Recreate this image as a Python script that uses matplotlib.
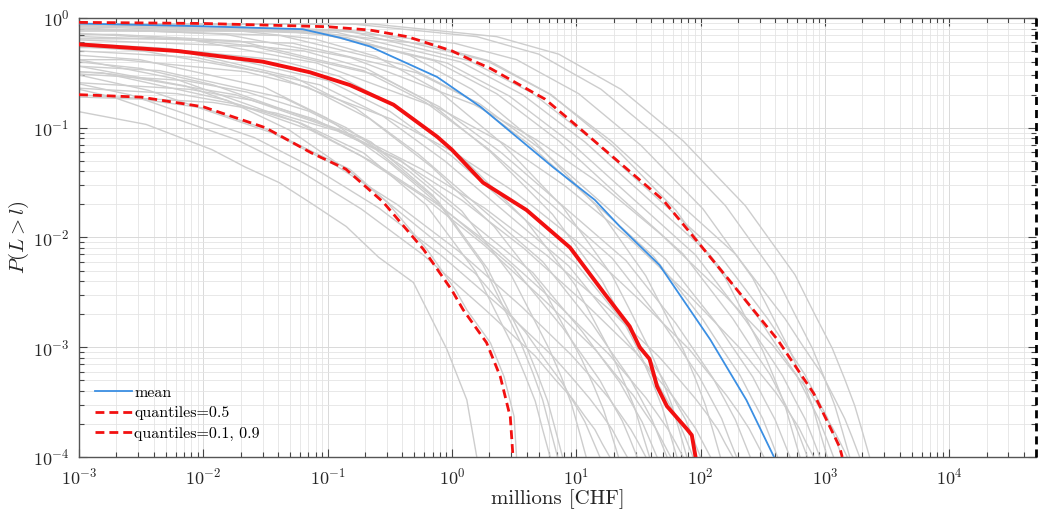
import numpy as np
import matplotlib
matplotlib.use("Agg")
import matplotlib.pyplot as plt
from matplotlib.lines import Line2D
from matplotlib.ticker import LogLocator, NullFormatter

plt.rcParams["font.family"] = "serif"
plt.rcParams["font.serif"] = ["cmr10"]
plt.rcParams["mathtext.fontset"] = "cm"
plt.rcParams["axes.formatter.use_mathtext"] = True

# exceedance curves P(L > l) of the single scenarios,
# each point stored as (log10 loss in millions, log10 probability)
grey_log = [
    [(-3, -0.854), (-2.46, -0.97), (-1.93, -1.20), (-1.66, -1.36), (-1.39, -1.50), (-1.13, -1.69),
     (-0.85, -1.90), (-0.59, -2.18), (-0.31, -2.41), (-0.04, -3.02), (0.12, -3.48), (0.20, -4.0)],
    [(-3, -0.72), (-2.5, -0.74), (-2, -0.82), (-1.5, -1.01), (-1.1, -1.23), (-0.82, -1.38), (-0.52, -1.68),
     (-0.2, -2.11), (0.03, -2.48), (0.12, -2.66), (0.31, -2.96), (0.42, -3.27), (0.50, -3.63), (0.52, -4.0)],
    [(-3, -0.64), (-2.21, -0.69), (-1.71, -0.79), (-1.21, -0.96), (-0.71, -1.23), (-0.21, -1.70), (0.19, -2.31),
     (0.34, -2.65), (0.49, -2.99), (0.59, -3.26), (0.67, -3.49), (0.73, -3.75), (0.79, -4)],
    [(-3, -0.51), (-2.15, -0.57), (-1.65, -0.675), (-1.15, -0.85), (-0.65, -1.13), (-0.15, -1.62), (0.25, -2.25),
     (0.40, -2.60), (0.55, -2.95), (0.65, -3.23), (0.73, -3.48), (0.79, -3.74), (0.85, -4)],
    [(-3, -0.59), (-2.11, -0.65), (-1.61, -0.75), (-1.11, -0.92), (-0.61, -1.20), (-0.11, -1.67), (0.29, -2.29),
     (0.44, -2.63), (0.59, -2.97), (0.69, -3.25), (0.77, -3.49), (0.83, -3.74), (0.89, -4)],
    [(-3, -0.70), (-1.92, -0.77), (-1.42, -0.865), (-0.92, -1.03), (-0.42, -1.29), (0.08, -1.76), (0.48, -2.35),
     (0.63, -2.68), (0.78, -3.01), (0.88, -3.27), (0.96, -3.51), (1.02, -3.75), (1.08, -4)],
    [(-3, -0.49), (-2.81, -0.50), (-1.81, -0.75), (-1.31, -1.02), (-0.81, -1.41), (-0.31, -1.87), (0.19, -2.33),
     (0.59, -2.86), (0.74, -3.10), (0.89, -3.33), (0.99, -3.52), (1.07, -3.68), (1.13, -3.84), (1.19, -4)],
    [(-3, -0.65), (-2.73, -0.72), (-1.73, -1.11), (-1.23, -1.39), (-0.73, -1.74), (-0.23, -2.16), (0.27, -2.66),
     (0.67, -3.08), (0.82, -3.28), (0.97, -3.47), (1.07, -3.63), (1.15, -3.75), (1.21, -3.88), (1.27, -4)],
    [(-3, -0.38), (-2.66, -0.38), (-1.66, -0.49), (-1.16, -0.63), (-0.66, -0.92), (-0.16, -1.36), (0.34, -1.90),
     (0.74, -2.48), (0.89, -2.79), (1.04, -3.10), (1.14, -3.35), (1.22, -3.57), (1.28, -3.78), (1.34, -4)],
    [(-3, -0.60), (-2.59, -0.70), (-1.59, -1.09), (-1.09, -1.38), (-0.59, -1.73), (-0.09, -2.16), (0.41, -2.65),
     (0.81, -3.08), (0.96, -3.27), (1.11, -3.47), (1.21, -3.62), (1.29, -3.75), (1.35, -3.88), (1.41, -4)],
    [(-3, -0.34), (-2.51, -0.38), (-1.51, -0.63), (-1.01, -0.91), (-0.51, -1.31), (-0.01, -1.79), (0.49, -2.27),
     (0.89, -2.82), (1.04, -3.06), (1.19, -3.30), (1.29, -3.51), (1.37, -3.67), (1.43, -3.83), (1.49, -4)],
    [(-3, -0.52), (-2.44, -0.66), (-1.44, -1.05), (-0.94, -1.34), (-0.44, -1.70), (0.06, -2.13), (0.56, -2.63),
     (0.96, -3.07), (1.11, -3.26), (1.26, -3.46), (1.36, -3.62), (1.44, -3.75), (1.50, -3.87), (1.56, -4)],
    [(-3, -0.27), (-2.41, -0.27), (-1.41, -0.38), (-0.91, -0.53), (-0.41, -0.83), (0.09, -1.28), (0.59, -1.84),
     (0.99, -2.43), (1.14, -2.75), (1.29, -3.07), (1.39, -3.33), (1.47, -3.55), (1.53, -3.78), (1.59, -4)],
    [(-3, -0.44), (-2.35, -0.48), (-1.35, -0.73), (-0.85, -1.00), (-0.35, -1.39), (0.15, -1.86), (0.65, -2.32),
     (1.05, -2.86), (1.20, -3.09), (1.35, -3.32), (1.45, -3.52), (1.53, -3.68), (1.59, -3.84), (1.65, -4)],
    [(-3, -0.23), (-2.27, -0.28), (-1.27, -0.54), (-0.77, -0.825), (-0.27, -1.24), (0.23, -1.73), (0.73, -2.22),
     (1.13, -2.79), (1.28, -3.04), (1.43, -3.28), (1.53, -3.49), (1.61, -3.66), (1.67, -3.83), (1.73, -4)],
    [(-3, -0.38), (-2.24, -0.55), (-1.24, -0.95), (-0.74, -1.25), (-0.24, -1.62), (0.26, -2.07), (0.76, -2.59),
     (1.16, -3.03), (1.31, -3.24), (1.46, -3.44), (1.56, -3.61), (1.64, -3.74), (1.70, -3.87), (1.76, -4)],
    [(-3, -0.19), (-2.19, -0.19), (-1.19, -0.30), (-0.69, -0.46), (-0.19, -0.76), (0.31, -1.22), (0.81, -1.79),
     (1.21, -2.40), (1.36, -2.72), (1.51, -3.05), (1.61, -3.31), (1.69, -3.54), (1.75, -3.77), (1.81, -4)],
    [(-3, -0.44), (-2.14, -0.62), (-1.14, -1.02), (-0.64, -1.31), (-0.14, -1.68), (0.36, -2.11), (0.86, -2.62),
     (1.26, -3.06), (1.41, -3.26), (1.56, -3.46), (1.66, -3.62), (1.74, -3.75), (1.80, -3.87), (1.86, -4)],
    [(-3, -0.07), (-2.11, -0.07), (-1.11, -0.19), (-0.61, -0.35), (-0.11, -0.66), (0.39, -1.13), (0.89, -1.72),
     (1.29, -2.35), (1.44, -2.68), (1.59, -3.02), (1.69, -3.29), (1.77, -3.53), (1.83, -3.76), (1.89, -4)],
    [(-3, -0.30), (-2.06, -0.36), (-1.06, -0.61), (-0.56, -0.89), (-0.06, -1.30), (0.44, -1.78), (0.94, -2.26),
     (1.34, -2.82), (1.49, -3.06), (1.64, -3.30), (1.74, -3.50), (1.82, -3.67), (1.88, -3.83), (1.94, -4)],
    [(-3, -0.25), (-2.0, -0.31), (-1.0, -0.57), (-0.5, -0.85), (0.0, -1.26), (0.5, -1.75), (1.0, -2.24),
     (1.4, -2.80), (1.55, -3.04), (1.7, -3.29), (1.8, -3.50), (1.88, -3.66), (1.94, -3.83), (2.0, -4)],
    [(-3, -0.40), (-2.5, -0.46), (-1.92, -0.61), (-0.92, -1.01), (-0.42, -1.30), (0.08, -1.66), (0.58, -2.10),
     (1.08, -2.61), (1.48, -3.05), (1.63, -3.25), (1.78, -3.45), (1.88, -3.61), (1.96, -3.74), (2.02, -3.87), (2.08, -4)],
    [(-3, -0.06), (-1.84, -0.06), (-0.84, -0.18), (-0.34, -0.34), (0.16, -0.65), (0.66, -1.12), (1.16, -1.71),
     (1.56, -2.35), (1.71, -2.68), (1.86, -3.02), (1.96, -3.29), (2.04, -3.53), (2.10, -3.76), (2.16, -4)],
    [(-3, -0.49), (-2.74, -0.51), (-1.74, -0.70), (-0.74, -1.09), (-0.24, -1.38), (0.26, -1.73), (0.76, -2.16),
     (1.26, -2.65), (1.66, -3.08), (1.81, -3.27), (1.96, -3.47), (2.06, -3.62), (2.14, -3.75), (2.20, -3.88), (2.26, -4)],
    [(-3, -0.15), (-2.71, -0.15), (-1.71, -0.21), (-0.71, -0.48), (-0.21, -0.77), (0.29, -1.19), (0.79, -1.69),
     (1.29, -2.19), (1.69, -2.77), (1.84, -3.02), (1.99, -3.27), (2.09, -3.48), (2.17, -3.65), (2.23, -3.83), (2.29, -4)],
    [(-3, -0.20), (-1.6, -0.26), (-0.6, -0.52), (-0.1, -0.81), (0.4, -1.23), (0.9, -1.72), (1.4, -2.21),
     (1.8, -2.78), (1.95, -3.03), (2.1, -3.28), (2.2, -3.49), (2.28, -3.66), (2.34, -3.83), (2.40, -4)],
    [(-3, -0.26), (-2.49, -0.30), (-1.49, -0.50), (-0.49, -0.92), (0.01, -1.22), (0.51, -1.59), (1.01, -2.04),
     (1.51, -2.57), (1.91, -3.02), (2.06, -3.23), (2.21, -3.44), (2.31, -3.60), (2.39, -3.74), (2.45, -3.87), (2.51, -4)],
    [(-3, -0.10), (-1.38, -0.16), (-0.38, -0.43), (0.12, -0.72), (0.62, -1.15), (1.12, -1.66), (1.62, -2.17),
     (2.02, -2.75), (2.17, -3.01), (2.32, -3.26), (2.42, -3.48), (2.50, -3.65), (2.56, -3.82), (2.62, -4)],
    [(-3, -0.17), (-1.28, -0.23), (-0.28, -0.50), (0.22, -0.78), (0.72, -1.20), (1.22, -1.70), (1.72, -2.20),
     (2.12, -2.77), (2.27, -3.02), (2.42, -3.27), (2.52, -3.49), (2.60, -3.66), (2.66, -3.83), (2.72, -4)],
    [(-3, -0.12), (-1.2, -0.12), (-0.2, -0.24), (0.3, -0.39), (0.8, -0.70), (1.3, -1.17), (1.8, -1.75),
     (2.2, -2.37), (2.35, -2.70), (2.5, -3.03), (2.6, -3.30), (2.68, -3.53), (2.74, -3.77), (2.80, -4)],
    [(-3, -0.06), (-1.14, -0.12), (-0.14, -0.39), (0.36, -0.69), (0.86, -1.12), (1.36, -1.64), (1.86, -2.15),
     (2.26, -2.74), (2.41, -3.00), (2.56, -3.25), (2.66, -3.47), (2.74, -3.65), (2.80, -3.82), (2.86, -4)],
    [(-3, -0.14), (-2.09, -0.20), (-1.09, -0.41), (-0.09, -0.83), (0.41, -1.14), (0.91, -1.53), (1.41, -1.99),
     (1.91, -2.53), (2.31, -3.00), (2.46, -3.21), (2.61, -3.42), (2.71, -3.59), (2.79, -3.73), (2.85, -3.87), (2.91, -4)],
    [(-3, -0.08), (-1.04, -0.14), (-0.04, -0.41), (0.46, -0.71), (0.96, -1.14), (1.46, -1.65), (1.96, -2.16),
     (2.36, -2.75), (2.51, -3.00), (2.66, -3.26), (2.76, -3.48), (2.84, -3.65), (2.90, -3.82), (2.96, -4)],
    [(-3, -0.11), (-0.98, -0.11), (0.02, -0.23), (0.52, -0.38), (1.02, -0.69), (1.52, -1.16), (2.02, -1.74),
     (2.42, -2.37), (2.57, -2.70), (2.72, -3.03), (2.82, -3.30), (2.90, -3.53), (2.96, -3.77), (3.02, -4)],
    [(-3, -0.07), (-0.93, -0.13), (0.07, -0.40), (0.57, -0.70), (1.07, -1.13), (1.57, -1.64), (2.07, -2.15),
     (2.47, -2.74), (2.62, -3.00), (2.77, -3.25), (2.87, -3.47), (2.95, -3.65), (3.01, -3.82), (3.07, -4)],
    [(-3, -0.05), (-0.86, -0.11), (0.14, -0.39), (0.64, -0.68), (1.14, -1.12), (1.64, -1.63), (2.14, -2.14),
     (2.54, -2.74), (2.69, -2.99), (2.84, -3.25), (2.94, -3.47), (3.02, -3.64), (3.08, -3.82), (3.14, -4)],
    [(-3, -0.09), (-1.82, -0.15), (-0.82, -0.36), (0.18, -0.79), (0.68, -1.11), (1.18, -1.50), (1.68, -1.97),
     (2.18, -2.51), (2.58, -2.98), (2.73, -3.20), (2.88, -3.41), (2.98, -3.59), (3.06, -3.73), (3.12, -3.86), (3.18, -4)],
    [(-3, -0.055), (-0.8, -0.055), (0.2, -0.17), (0.7, -0.33), (1.2, -0.65), (1.7, -1.12), (2.2, -1.71),
     (2.6, -2.34), (2.75, -2.68), (2.9, -3.01), (3.0, -3.29), (3.08, -3.53), (3.14, -3.76), (3.20, -4)],
    [(-3, -0.06), (-0.72, -0.12), (0.28, -0.39), (0.78, -0.69), (1.28, -1.12), (1.78, -1.64), (2.28, -2.15),
     (2.68, -2.74), (2.83, -3.00), (2.98, -3.25), (3.08, -3.47), (3.16, -3.65), (3.22, -3.82), (3.28, -4)],
    [(-3, -0.055), (-0.64, -0.055), (0.36, -0.17), (0.86, -0.33), (1.36, -0.65), (1.86, -1.12), (2.36, -1.71),
     (2.76, -2.34), (2.91, -2.68), (3.06, -3.01), (3.16, -3.29), (3.24, -3.53), (3.30, -3.76), (3.36, -4)],
]

# mean curve
mean_loss = [0.001, 0.01, 0.063, 0.126, 0.219, 0.76, 1.70, 6.46, 14.1, 22.4, 46.8, 120, 234, 390]
mean_prob = [0.89, 0.84, 0.79, 0.66, 0.55, 0.29, 0.155, 0.044, 0.022, 0.0126, 0.0056, 0.00117, 0.00033, 0.0001]

# pointwise median
q50_loss = [0.001, 0.0062, 0.030, 0.072, 0.151, 0.339, 0.759, 1.0, 1.78, 3.98, 8.91, 16.6, 26.9,
            32.4, 38.9, 44.7, 53.7, 77.6, 85.1, 91.2]
q50_prob = [0.575, 0.50, 0.40, 0.32, 0.245, 0.162, 0.083, 0.063, 0.0316, 0.0178, 0.0081, 0.00316, 0.00155,
            0.001, 0.00078, 0.00044, 0.00029, 0.00018, 0.000158, 0.0001]

# 10% and 90% quantiles
q10_loss = [0.001, 0.00316, 0.01, 0.0316, 0.074, 0.14, 0.28, 0.59, 1.0, 1.23, 1.9, 2.45, 2.95, 3.1]
q10_prob = [0.20, 0.19, 0.155, 0.10, 0.059, 0.042, 0.021, 0.0078, 0.0033, 0.0022, 0.0011, 0.00054, 0.00023, 0.0001]
q90_loss = [0.001, 0.01, 0.1, 0.219, 0.437, 1.0, 1.41, 2.04, 5.62, 10, 22.4, 50.1, 162, 417, 813, 1318, 1380]
q90_prob = [0.912, 0.891, 0.832, 0.776, 0.676, 0.501, 0.417, 0.347, 0.182, 0.105, 0.0479, 0.0219,
            0.00437, 0.00117, 0.00038, 0.000123, 0.0001]

max_loss = 5e4

blue = "#3b8fe3"
red = "#f21010"
dash = (0, (3.2, 1.8))

fig = plt.figure(figsize=(10.41, 5.09), dpi=100)
ax = fig.add_axes([0.0759, 0.1022, 0.9193, 0.8625])

for c in grey_log:
    c = np.array(c)
    ax.plot(10 ** c[:, 0], 10 ** c[:, 1], color="#cdcdcd", lw=1.0, zorder=2)

ax.plot(mean_loss, mean_prob, color=blue, lw=1.3, zorder=3)
ax.plot(q10_loss, q10_prob, color=red, lw=2.0, ls=dash, zorder=4)
ax.plot(q90_loss, q90_prob, color=red, lw=2.0, ls=dash, zorder=4)
ax.plot(q50_loss, q50_prob, color=red, lw=2.8, zorder=5)
ax.axvline(max_loss, color="black", lw=2.0, ls=(0, (2.9, 1.8)), clip_on=False, zorder=6)

ax.set_xscale("log")
ax.set_yscale("log")
ax.set_xlim(1e-3, max_loss)
ax.set_ylim(1e-4, 1)

ax.xaxis.set_major_locator(LogLocator(base=10, numticks=20))
ax.xaxis.set_minor_locator(LogLocator(base=10, subs=np.arange(2, 10), numticks=200))
ax.xaxis.set_minor_formatter(NullFormatter())
ax.yaxis.set_major_locator(LogLocator(base=10, numticks=20))
ax.yaxis.set_minor_locator(LogLocator(base=10, subs=np.arange(2, 10), numticks=200))
ax.yaxis.set_minor_formatter(NullFormatter())

ax.set_axisbelow(True)
ax.grid(True, which="major", color="#d9d9d9", lw=0.7)
ax.grid(True, which="minor", color="#e4e4e4", lw=0.6)

ax.tick_params(which="both", direction="in", top=True, right=True, color="#444444",
               width=0.8, labelsize=13, labelcolor="#262626")
ax.tick_params(which="major", length=6, pad=7)
ax.tick_params(which="minor", length=3.5)
for side in ["left", "bottom", "top"]:
    ax.spines[side].set_color("#555555")
    ax.spines[side].set_linewidth(1.0)
ax.spines["right"].set_visible(False)

ax.set_xlabel("millions [CHF]", fontsize=15, labelpad=1, color="#262626")
ax.set_ylabel(r"$P(L>l)$", fontsize=15, color="#262626")
ax.yaxis.set_label_coords(-0.050, 0.5)

handles = [
    Line2D([], [], color=blue, lw=1.3),
    Line2D([], [], color=red, lw=2.0, ls=dash),
    Line2D([], [], color=red, lw=2.0, ls=dash),
]
ax.legend(handles, ["mean", "quantiles=0.5", "quantiles=0.1, 0.9"], loc="lower left",
          frameon=False, fontsize=11.5, handlelength=2.3, handletextpad=0.15,
          labelspacing=0.4, borderaxespad=0.6)

fig.savefig("out.png", dpi=100)
